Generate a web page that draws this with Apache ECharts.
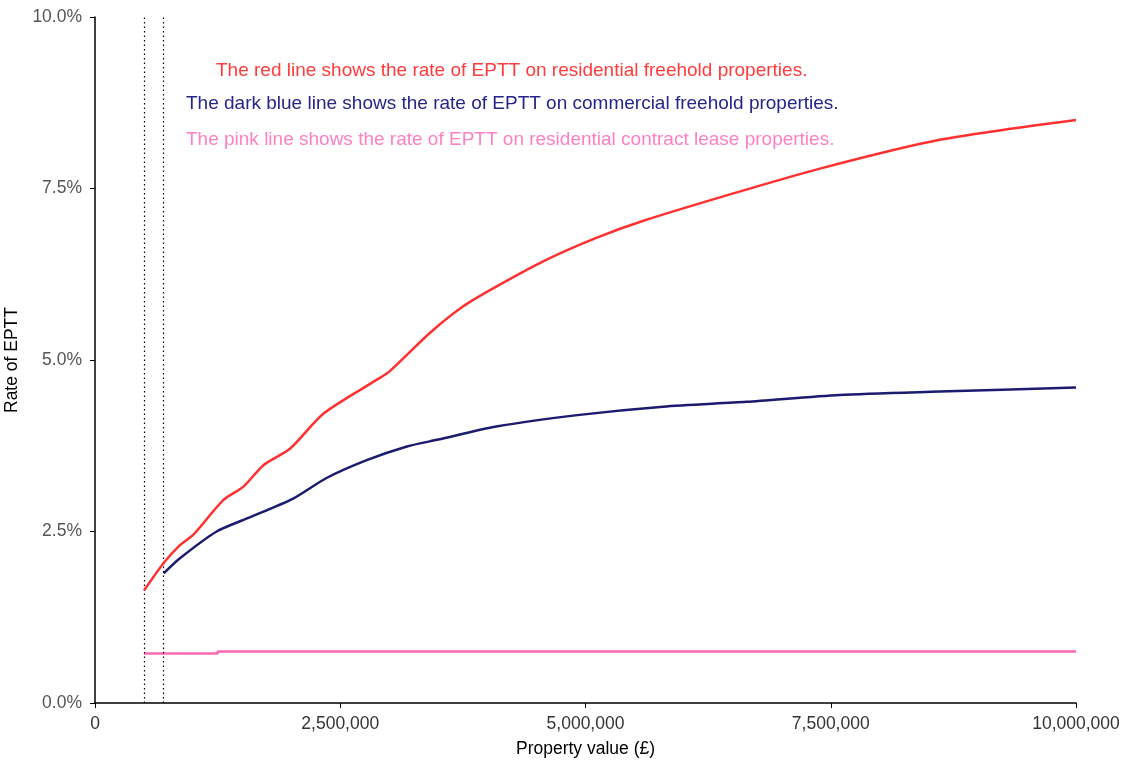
<!DOCTYPE html>
<html>
<head>
<meta charset="utf-8">
<script src="https://cdn.jsdelivr.net/npm/echarts@6/dist/echarts.min.js"></script>
<style>html,body{margin:0;padding:0;background:#fff}#c{width:1130px;height:763px}</style>
</head>
<body>
<div id="c"></div>
<script>
// Property values (£) and rates of EPTT (%)
const redX = [500000, 700000, 866000, 1000000, 1310000, 1510000, 1720000, 1990000, 2330000, 2870000, 3000000, 3410000, 3750000, 4090000, 4600000, 5110000, 5590000, 6440000, 7390000, 8610000, 10000000];
const redY = [1.64, 2.04, 2.30, 2.45, 2.96, 3.15, 3.47, 3.71, 4.22, 4.71, 4.83, 5.39, 5.78, 6.07, 6.46, 6.78, 7.03, 7.40, 7.79, 8.21, 8.50];
const blueX = [700000, 866000, 1240000, 1550000, 2020000, 2360000, 2770000, 3180000, 3500000, 4090000, 4940000, 5790000, 6640000, 7590000, 8610000, 10000000];
const blueY = [1.89, 2.11, 2.50, 2.69, 2.98, 3.28, 3.54, 3.74, 3.84, 4.03, 4.20, 4.32, 4.39, 4.49, 4.54, 4.60];
const pinkX = [500000, 1250000, 1250000, 10000000];
const pinkY = [0.72, 0.72, 0.75, 0.75];
const thresholds = [500000, 700000];
const xTicks = [0, 2500000, 5000000, 7500000, 10000000];
const yTicks = [0, 2.5, 5, 7.5, 10];
const notes = [
  'The red line shows the rate of EPTT on residential freehold properties.',
  'The dark blue line shows the rate of EPTT on commercial freehold properties.',
  'The pink line shows the rate of EPTT on residential contract lease properties.'
];

const zip = (xs, ys) => xs.map((x, i) => [x, ys[i]]);
const chart = echarts.init(document.getElementById('c'), null, {renderer: 'canvas'});
const font = 'Liberation Sans, Arial, sans-serif';
chart.setOption({
  animation: false,
  backgroundColor: '#fff',
  grid: {left: 95, right: 54, top: 17, bottom: 60, containLabel: false, outerBoundsMode: 'none'},
  xAxis: {
    type: 'value', min: 0, max: 10000000, interval: 2500000,
    name: 'Property value (£)', nameLocation: 'middle', nameGap: 37,
    nameTextStyle: {fontFamily: font, fontSize: 17.5, color: '#000'},
    axisLine: {lineStyle: {color: '#000', width: 1.5}},
    axisTick: {lineStyle: {color: '#000'}, length: 5},
    splitLine: {show: false},
    axisLabel: {fontFamily: font, fontSize: 17.5, color: '#333', margin: 12,
      formatter: v => xTicks.includes(v) ? v.toLocaleString('en-GB') : ''}
  },
  yAxis: {
    type: 'value', min: 0, max: 10, interval: 2.5,
    name: 'Rate of EPTT', nameLocation: 'middle', nameGap: 67, nameRotate: 90,
    nameTextStyle: {fontFamily: font, fontSize: 17.5, color: '#000'},
    axisLine: {show: true, lineStyle: {color: '#000', width: 1.5}},
    axisTick: {show: true, lineStyle: {color: '#000'}, length: 5},
    splitLine: {show: false},
    axisLabel: {fontFamily: font, fontSize: 17.5, color: '#555', margin: 13,
      formatter: v => yTicks.includes(v) ? v.toFixed(1) + '%' : ''}
  },
  series: [
    {type: 'line', data: zip(pinkX, pinkY), symbol: 'none', lineStyle: {color: '#FF69B4', width: 2.5}, z: 3},
    {type: 'line', data: zip(blueX, blueY), symbol: 'none', smooth: 0.25, lineStyle: {color: '#1B1B6F', width: 2.5}, z: 4},
    {type: 'line', data: zip(redX, redY), symbol: 'none', smooth: 0.25, lineStyle: {color: '#FF3030', width: 2.5}, z: 5,
      markLine: {symbol: 'none', silent: true, label: {show: false},
        lineStyle: {color: '#000', type: [1.5, 3], width: 1.2},
        data: thresholds.map(t => ({xAxis: t}))}}
  ],
  graphic: [
    {type: 'text', left: 216, top: 61, style: {text: notes[0], fill: '#FF3B3B', font: '19px Liberation Sans, Arial, sans-serif'}},
    {type: 'text', left: 186, top: 94, style: {text: notes[1], fill: '#25258A', font: '19px Liberation Sans, Arial, sans-serif'}},
    {type: 'text', left: 186, top: 130, style: {text: notes[2], fill: '#FF7FC4', font: '19px Liberation Sans, Arial, sans-serif'}}
  ]
});
</script>
</body>
</html>
